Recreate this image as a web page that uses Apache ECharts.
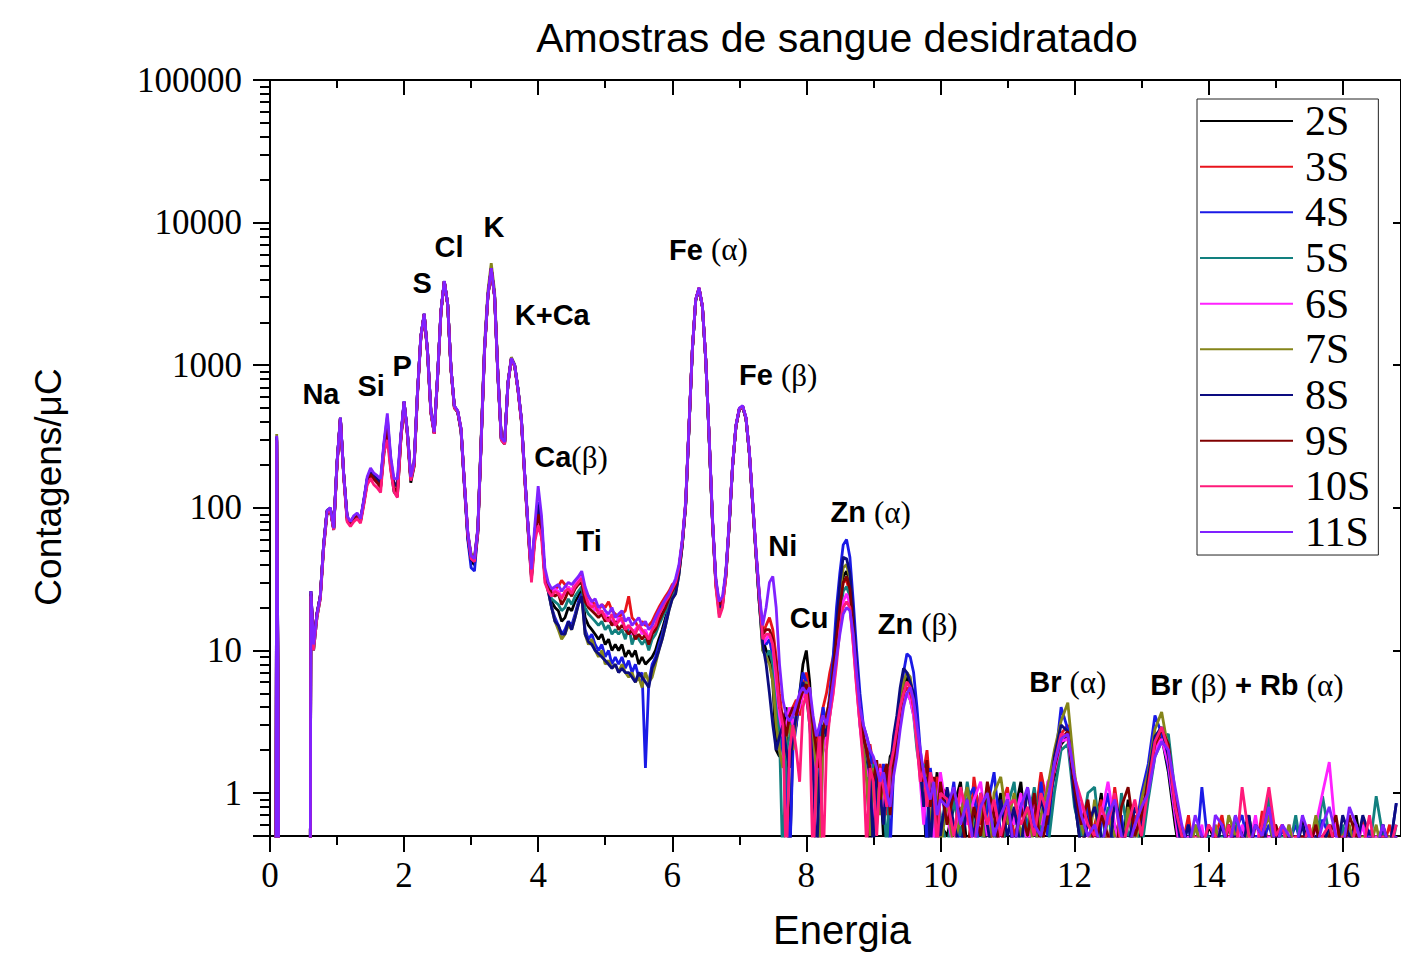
<!DOCTYPE html>
<html><head><meta charset="utf-8">
<script src="https://cdn.jsdelivr.net/npm/echarts@6/dist/echarts.min.js"></script>
<style>html,body{margin:0;padding:0;background:#fff}#chart{width:1401px;height:953px}</style>
</head><body><div id="chart"></div>
<script>
// ---------- DATA ----------
const energy = [
 0.09,0.10,0.12,0.13,0.60,
 0.61,0.65,0.70,0.75,0.80,0.85,0.90,0.95,1.00,1.05,1.10,1.15,1.20,1.25,1.30,1.35,1.40,1.45,1.50,1.55,1.60,1.65,1.70,1.75,1.80,1.85,1.90,1.95,2.00,2.05,2.10,2.15,2.20,2.25,2.30,2.35,2.40,2.45,2.50,2.55,2.60,2.65,2.70,2.75,2.80,2.85,2.90,2.95,3.00,3.05,3.10,3.15,3.20,3.25,3.30,3.35,3.40,3.45,3.50,3.55,3.60,3.65,3.70,3.75,3.80,3.85,3.90,3.95,4.00,4.05,4.10,4.15,4.20,
 4.25,4.30,4.35,4.40,4.45,4.50,4.55,4.60,4.65,4.70,4.75,4.80,4.85,4.90,4.95,5.00,5.05,5.10,5.15,5.20,5.25,5.30,5.35,5.40,5.45,5.50,5.55,5.60,5.65,5.70,5.75,5.80,5.85,5.90,5.95,6.00,
 6.05,6.10,6.15,6.20,6.25,6.30,6.35,6.40,6.45,6.50,6.55,6.60,6.65,6.70,6.75,6.80,6.85,6.90,6.95,7.00,
 7.05,7.10,7.15,7.20,7.25,7.30,7.35,7.40,7.45,7.50,7.55,7.60,7.65,7.70,7.75,7.80,7.85,7.90,7.95,8.00,
 8.05,8.10,8.15,8.20,8.25,8.30,8.35,8.40,8.45,8.50,8.55,8.60,8.65,8.70,8.75,8.80,8.85,8.90,8.95,9.00,
 9.05,9.10,9.15,9.20,9.25,9.30,9.35,9.40,9.45,9.50,9.55,9.60,9.65,9.70,9.75,9.80,9.85,9.90,9.95,10.00,
 10.1,10.2,10.3,10.4,10.5,10.6,10.7,10.8,10.9,11.0,
 11.1,11.2,11.3,11.4,11.5,11.6,11.7,11.8,11.9,12.0,
 12.1,12.2,12.3,12.4,12.5,12.6,12.7,12.8,12.9,13.0,
 13.1,13.2,13.3,13.4,13.5,13.6,13.7,13.8,13.9,14.0,
 14.1,14.2,14.3,14.4,14.5,14.6,14.7,14.8,14.9,15.0,
 15.1,15.2,15.3,15.4,15.5,15.6,15.7,15.8,15.9,16.0,
 16.1,16.2,16.3,16.4,16.5,16.6,16.7,16.8
];

const s2S = [
 0.2,290,3.5,0.2,0.2,
 24,10,17,23,52,90,96,70,200,420,165,82,76,84,88,80,108,150,175,160,150,140,240,350,190,130,120,290,540,320,150,195,620,1550,2250,1200,460,330,820,2350,3850,2650,920,500,470,350,145,62,42,40,66,290,1250,3000,4700,3000,820,300,280,740,1100,980,660,400,160,68,32,62,95,70,33,27,22,
 20,19,16,17,20,19,22,24,27,17,15,14,13,12,13,11,12,10,11,10,11,9,10,9,10,8,9,8,8.5,9,10,12,14,17,20,24,
 27,36,56,105,370,1280,2850,3450,2550,1080,310,80,29,19,21,33,76,195,370,490,510,420,240,105,46,22,
 12,10,9,6,2,1.8,3,4,0.3,2.5, 3,5,8,10,6,2,2.5,1.5,2,3, 4,6,12,22,33,36,30,15,7,3.5, 2,1.5,0.4,1.6,0.9,1.3,0.5,1.1,1.8,2, 3,4.5,6,6.5,5.5,4,2.5,1.5,1.0,0.3, 1.2,0.8,1.4,0.6,
 0.5,0.8,1.2,0.4,0.7,0.9,0.4,0.6,1.0,0.3, 0.7,1.2,0.4,0.8,0.5,0.9,1.3,2.2,2.5,0.9, 0.4,0.7,0.5,1.0,0.3,0.6,0.4,0.9,0.3,0.6, 1.2,2.3,2.5,1.4,0.6,0.3,0.5,0.4,0.3,0.6,
 0.45,0.35,0.6,0.4,0.5,0.7,0.35,0.5,0.4,0.6, 0.35,0.5,0.4,0.65,0.35,0.5,0.4,0.6,0.35,0.5, 0.4,0.7,0.35,0.5,0.4,0.6,0.35,0.5
];
const s3S = [
 0.2,300,4,0.2,0.2,
 25,11,18,24,54,94,98,71,205,425,168,85,77,85,90,82,110,155,170,158,150,138,260,380,200,140,125,300,550,330,158,200,640,1580,2280,1230,470,335,840,2380,3880,2680,940,510,475,355,148,66,45,43,70,295,1280,3050,4750,3050,840,305,285,750,1110,990,670,410,165,72,34,65,85,68,34,29,26,
 27,28,31,29,27,26,30,32,34,26,24,22,21,19,21,20,22,19,18,17,18,19,24,17,16,14,16,15,15,16,18,20,22,24,26,29,
 30,38,58,108,375,1290,2880,3480,2580,1090,315,82,31,21,22,35,78,198,375,495,515,425,245,108,48,24,
 13,15,17,14,9,5,3.2,2.5,3,4, 4.5,3.5,5.5,7,5,3,2,3,4,5, 7,9,14,22,30,31,25,13,6,3.5, 2.5,1.8,2.2,1.5,1.0,1.6,1.1,0.7,1.3,1.7, 2.5,3.5,5,5.5,5,4,2.5,1.7,1.4,2, 1.0,0.6,1.3,1.1,
 1.0,0.5,0.8,0.3,1.3,0.6,1.0,0.4,0.8,1.1, 0.5,0.7,1.0,0.6,1.4,0.8,1.6,2.6,3.0,1.2, 0.7,0.3,0.6,0.9,0.4,1.1,0.5,0.3,0.7,0.5, 1.0,2.1,2.7,1.7,0.8,0.4,0.7,0.3,0.5,0.3,
 0.5,0.7,0.35,0.6,0.4,0.5,0.35,0.75,0.4,0.5, 0.6,0.35,0.5,0.4,0.6,0.35,0.5,0.4,0.6,0.35, 0.5,0.4,0.65,0.35,0.5,0.4,0.6,0.35
];
const s4S = [
 0.2,310,4.5,0.2,0.2,
 26,11,18,24,55,96,100,72,208,428,170,86,79,87,91,83,112,160,185,170,160,152,280,430,220,150,145,310,555,335,160,205,645,1590,2290,1240,475,338,845,2390,3890,2690,945,515,470,340,140,60,38,36,68,298,1290,3080,4780,3080,845,308,288,755,1115,995,675,415,168,70,33,68,110,78,34,27,20,
 17,15,13,14,16,15,18,22,25,14,12,13,11,10,11,9,10,8,9,8,9,7.5,8.5,7,8,6.5,7,1.5,6,8,9,11,13,16,20,24,
 26,35,55,104,368,1280,2860,3460,2560,1085,312,80,30,20,22,34,77,196,372,492,512,422,242,106,47,21,
 12,11,12,9,5,3,2,1.5,0.3,2, 3,5,7,6,4,2,1.5,2.5,4,3, 5,9,20,35,55,60,45,22,10,5, 3,2.5,2,1.2,1.5,0.8,1.6,1.2,0.4,1.4, 2.5,4,7,9.5,9,7,4,2,1.2,0.4, 1.5,0.9,0.3,1.1,
 0.6,1.2,0.4,0.9,1.1,0.3,0.8,1.4,0.5,0.7, 0.4,0.9,0.6,0.3,1.2,0.5,1.5,4.0,2.8,1.0, 0.5,0.8,0.3,0.6,1.0,0.4,0.7,0.3,0.5,1.0, 1.6,3.5,2.6,1.5,0.7,0.4,0.6,0.3,1.1,0.4,
 0.45,0.6,0.4,0.55,0.7,0.4,0.5,0.45,0.6,0.4, 0.55,0.45,0.6,0.4,0.5,0.45,0.65,0.5,0.4,0.55, 0.45,0.6,0.4,0.55,0.45,0.5,0.4,0.85
];
const s5S = [
 0.2,295,3.8,0.2,0.2,
 25,10,17,24,54,94,98,71,205,425,168,86,78,86,90,82,112,160,182,168,158,150,270,400,210,145,140,305,550,332,160,202,640,1585,2285,1235,472,336,842,2385,3885,2685,942,512,476,356,148,66,45,43,70,296,1285,3060,4760,3060,842,306,286,752,1112,992,672,412,166,72,34,64,90,72,33,28,23,
 22,21,19,20,23,21,24,26,28,20,18,17,16,15,16,14,15,13,14,13,14,12,15,11,13,12,11,12,10,12,13,15,17,19,22,25,
 28,36,57,106,372,1285,2870,3470,2570,1088,314,81,30,20,22,34,77,197,374,494,514,424,244,107,47,22,
 10,9,10,8,4,2.5,0.3,2,2.5,3.5, 4,4.5,5,4.5,3.5,2.5,1.5,2,3,2.5, 3.5,5.5,10,18,26,28,24,12,6,3, 2,1.4,1.0,1.6,0.6,1.3,0.9,0.4,1.4,1.8, 2.5,3.5,4.5,5,4.5,3.5,2,1.4,1.6,0.8, 1.2,0.5,1.0,0.7,
 0.4,0.9,0.5,1.2,0.6,0.4,1.1,0.5,0.3,0.8, 1.2,0.4,0.6,1.1,0.5,0.4,1.0,2.0,2.2,0.8, 0.5,1.0,1.1,0.4,0.8,0.3,1.0,0.5,0.6,0.4, 0.9,1.8,2.3,2.6,1.0,0.5,0.3,0.6,0.4,0.5,
 0.35,0.5,0.4,0.7,0.35,0.6,0.4,0.5,0.95,0.35, 0.5,0.4,0.7,0.35,0.5,0.4,0.95,0.5,0.35,0.6, 0.4,0.5,0.35,0.4,0.95,0.5,0.35,0.6
];
const s6S = [
 0.2,305,4.2,0.2,0.2,
 26,11,18,24,55,95,99,72,208,428,170,86,78,86,90,82,110,155,175,160,150,140,265,390,205,140,130,305,555,335,160,205,645,1590,2290,1240,478,338,845,2390,3890,2690,945,515,478,358,148,67,46,44,71,298,1290,3080,4780,3080,845,308,288,755,1115,995,675,415,168,73,35,66,85,70,34,29,25,
 27,26,24,25,28,26,29,31,33,24,22,21,19,20,18,18,17,16,15,17,16,14,15,13,14,15,13,14,12,14,15,17,19,21,24,27,
 29,37,58,107,374,1290,2880,3480,2580,1090,315,82,30,19,21,34,78,198,376,496,516,426,246,108,48,23,
 11,12,13,11,6,3.5,2.5,3,4,3, 3.5,4,5,4.5,3.8,2,1.2,0.3,2,2.5, 3.5,5,9,15,22,25,21,11,5.5,3, 1.8,1.3,1.6,0.5,1.2,1.5,0.8,1.3,0.9,1.5, 2.2,3.5,4.5,5,4.5,3.5,2.3,1.2,0.6,1.3, 1.0,0.4,0.8,1.4,
 0.7,0.4,1.0,0.6,0.9,1.2,0.5,0.8,0.4,1.0, 0.6,1.0,0.4,0.9,0.6,1.2,1.4,2.3,2.4,1.0, 0.8,0.5,0.4,0.7,1.2,0.6,0.3,0.7,0.5,0.8, 1.1,2.0,2.4,1.6,0.7,0.3,0.5,0.4,0.6,0.3,
 0.6,0.4,0.5,0.35,0.6,0.4,0.7,0.35,0.5,0.4, 0.35,0.6,0.4,0.5,0.35,0.6,1.0,1.65,0.5,0.35, 0.5,0.4,0.6,0.35,0.5,0.4,0.5,0.35
];
const s7S = [
 0.2,330,5,0.2,0.2,
 26,11,18,24,55,95,99,72,208,428,170,86,78,86,90,82,112,158,180,165,155,148,270,410,212,146,140,305,555,335,160,205,645,1590,2290,1240,478,338,845,2390,3890,2690,945,515,470,345,145,64,48,45,72,320,1400,3300,5200,3300,880,315,292,770,1140,1010,685,420,168,70,33,62,90,72,32,26,20,
 16,14,12,13,15,14,17,21,24,13,11,12,10,9,10,8,8.5,7.5,8,7,8,7,6.5,7,6,6.5,5.5,7,6,6.5,8,10,12,15,19,23,
 25,34,55,104,368,1280,2860,3460,2560,1085,312,80,29,18,21,33,76,196,372,492,512,422,242,106,46,21,
 10,9,8,6,3,2,1.5,2.5,3,2, 3.5,4.5,5.5,6,4.5,2.5,1.5,0.3,2.5,3.5, 4.5,7,13,25,38,40,32,16,7,3.5, 2,1.2,0.5,1.5,1.2,0.7,1.4,1.0,1.6,2.2, 3,4.5,6,7,6.5,4.5,2.5,1.3,0.9,1.4, 0.5,1.2,0.9,0.4,
 0.9,0.4,0.7,1.1,0.5,0.8,0.3,1.0,1.3,0.6, 1.0,0.5,0.8,0.4,0.7,1.1,2.0,3.2,4.3,1.4, 0.6,0.4,0.9,0.3,0.7,0.5,0.3,0.8,0.4,0.9, 1.4,2.8,3.7,2.0,0.9,0.5,0.3,0.6,0.4,0.3,
 0.6,0.35,0.7,0.5,0.35,0.6,0.4,0.5,0.7,0.35, 0.4,0.6,0.35,0.5,0.4,0.7,0.35,0.5,0.4,0.5, 0.6,0.35,0.5,0.4,0.6,0.35,0.5,0.4
];
const s8S = [
 0.2,315,4.4,0.2,0.2,
 26,11,18,24,55,95,99,72,208,428,170,86,78,86,90,82,112,158,182,168,158,150,275,380,215,148,142,305,555,335,160,205,645,1590,2290,1240,478,338,845,2390,3890,2690,945,515,470,345,145,63,43,42,70,298,1290,3080,4780,3080,845,308,288,755,1115,995,675,415,168,72,35,68,105,76,33,26,20,
 16,15,13,13,16,14,17,21,24,13,11.5,11,10,9.5,9,8.5,8,7.5,8,7,7.5,7,7,6.5,6,7,6.5,6,5.5,7.5,8.5,10,12,15,19,23,
 25,34,55,104,368,1280,2860,3460,2560,1085,312,80,30,20,22,34,77,196,372,492,512,422,242,106,47,21,
 11,8,5,3,2,2.5,3,2,1.5,2.5, 3.5,4.5,6,5,3,1.5,0.3,1.5,3,2.5, 4,7,15,30,45,44,35,18,8,4, 2.5,2,1.3,0.4,1.4,1.0,0.6,1.3,1.5,2.5, 3.5,5.5,7.5,7,6,5,3,1.5,0.8,1.3, 0.4,1.0,0.8,0.5,
 1.1,0.6,0.4,0.8,0.5,1.0,0.6,0.3,0.9,0.5, 0.8,0.4,1.1,0.5,0.9,0.6,1.8,3.0,2.7,0.9, 0.4,0.6,0.8,0.5,0.3,0.9,0.6,0.4,0.8,0.6, 1.3,2.5,2.9,1.8,0.8,0.4,0.6,0.3,0.5,0.4,
 0.4,0.6,0.35,0.5,0.4,0.7,0.35,0.6,0.4,0.5, 0.35,0.5,0.4,0.6,0.35,0.5,0.4,0.6,0.35,0.7, 0.5,0.4,0.7,0.5,0.35,0.6,0.4,0.85
];
const s9S = [
 0.2,300,3.6,0.2,0.2,
 25,11,18,24,54,94,98,71,205,425,168,85,77,85,89,81,110,155,172,160,150,140,260,370,200,138,128,300,550,330,158,200,640,1580,2280,1230,470,335,840,2380,3880,2680,940,510,475,355,148,66,45,43,70,295,1280,3050,4750,3050,840,305,285,750,1110,990,670,410,165,72,34,64,90,70,34,29,25,
 24,25,21,23,26,24,27,29,30,22,20,19,18,17,18,16,17,15,16,14,15,14,13,14,12,13,12,13,11,13,14,16,18,20,23,26,
 29,37,58,107,374,1290,2880,3480,2580,1090,315,82,31,21,22,35,78,198,375,495,515,425,245,108,48,24,
 13,14,14,12,8,4,3.5,2.5,3.5,4, 3.5,4.5,5.2,5.8,4.5,3,2,1.5,2.8,3.5, 4.5,7,12,20,30,33,27,14,6.5,3.8, 2.5,2,1.5,1.2,1.7,0.9,1.3,1.6,0.7,1.6, 2.5,3.8,5,6,5.5,4,2.6,1.5,1.2,1.7, 0.8,1.3,0.6,1.2,
 0.6,1.0,0.7,0.4,0.8,0.5,1.2,0.7,0.4,0.9, 0.4,0.8,0.5,1.0,0.4,0.7,1.5,2.4,2.7,1.1, 0.6,0.9,0.4,0.7,0.5,0.3,0.8,1.1,0.5,0.7, 1.2,2.2,2.8,2.2,0.9,0.5,0.4,0.3,0.5,0.3,
 0.5,0.35,0.6,0.4,0.5,0.35,0.6,0.5,0.35,0.6, 0.4,0.5,0.35,0.5,0.4,0.6,0.35,0.5,0.7,0.35, 0.7,0.5,0.35,0.5,0.4,0.5,0.35,0.5
];
const s10S = [
 0.2,298,3.9,0.2,0.2,
 24,10,17,23,52,92,96,70,200,420,165,80,74,80,84,78,105,145,160,145,138,128,245,300,185,130,118,295,545,325,155,198,635,1570,2270,1220,465,330,835,2370,3870,2670,935,505,470,350,145,65,44,42,68,290,1270,3040,4740,3040,835,300,280,745,1105,985,665,405,160,70,30,58,75,62,30,26,24,
 26,25,23,26,27,25,28,30,32,25,21,20,21,18,19,17,16,18,15,16,17,14,15,14,13,15,14,13,12,14,15,18,20,22,24,27,
 30,38,58,108,375,1290,2880,3480,2580,1090,315,82,28,17,20,33,78,198,375,495,515,425,245,108,48,23,
 12,13,13,11,7,4,3,0.3,2,3, 2,1.2,4,5,3,0.3,1.5,2.5,0.3,2, 3.5,5,8,14,20,22,20,11,5.5,3, 1.6,0.4,1.5,1.2,0.5,1.4,1.1,0.8,1.5,2, 2.8,4,5,6,5.5,4,2.2,1.2,1.5,0.8, 1.4,1.1,0.4,1.0,
 0.9,0.5,1.1,0.7,0.4,1.0,0.6,0.9,0.5,0.8, 0.9,0.6,0.8,0.5,1.0,0.7,1.6,2.6,2.5,1.3, 0.9,0.6,0.5,0.8,0.6,1.0,0.4,0.6,0.9,0.5, 1.1,2.3,2.9,2.0,0.8,0.5,0.3,0.5,0.4,0.6,
 0.5,0.4,0.6,0.35,1.1,0.5,0.4,0.6,1.1,0.5, 0.6,0.35,0.5,0.4,0.6,0.35,0.5,0.6,0.4,0.5, 0.35,0.6,0.4,0.7,0.35,0.5,0.4,0.6
];
const s11S = [
 0.2,320,4.6,0.2,0.2,
 26,11,18,24,55,95,100,72,210,430,170,88,80,88,92,84,115,165,190,175,168,160,290,460,230,160,160,320,560,340,165,210,650,1600,2300,1250,480,340,850,2400,3900,2700,950,520,480,360,150,68,46,44,72,300,1300,3100,4800,3100,850,310,290,760,1120,1000,680,420,170,75,37,75,142,88,38,30,27,
 28,29,26,28,30,29,31,33,36,28,24,22,23,20,21,19,18,20,17,18,19,16,17,15,16,17,15,16,14,15,17,19,21,23,25,28,
 32,40,60,110,380,1300,2900,3500,2600,1100,320,85,32,22,24,36,80,200,380,500,520,430,250,110,50,25,
 15,20,30,33,20,8,4.5,3.5,3.2,3.5, 4.2,5,5.5,5,5.5,3.5,2.5,3,3.5,3, 4,6,9,13,18,20,19,13,7,4, 3,2.5,2,1.8,1.5,1.2,1.4,1.0,0.8,1.3, 1.8,2.8,4,5,5.5,4.5,3,2,1.4,1.1, 0.9,1.2,0.7,0.9,
 0.8,1.1,0.6,0.9,0.4,0.8,1.0,0.5,0.7,0.9, 0.4,0.8,1.1,0.6,0.5,0.9,1.6,2.4,2.6,1.3, 0.7,0.5,0.6,0.4,0.7,0.9,0.5,0.4,0.6,0.8, 1.0,1.8,2.3,2.0,1.1,0.6,0.4,0.7,0.5,0.3,
 0.7,0.6,0.4,0.7,0.5,0.4,0.6,0.5,0.8,0.4, 0.6,0.5,0.4,0.7,0.5,0.4,0.6,0.8,0.5,0.4, 0.8,0.6,0.4,0.5,0.4,0.6,0.4,0.5
];

const sampleNames = ['2S','3S','4S','5S','6S','7S','8S','9S','10S','11S'];
const sampleValues = [s2S,s3S,s4S,s5S,s6S,s7S,s8S,s9S,s10S,s11S];

const peakLabels = ['Na','Si','P','S','Cl','K','K+Ca','Ca(β)','Ti','Fe (α)','Fe (β)','Ni','Cu','Zn (α)','Zn (β)','Br (α)','Br (β) + Rb (α)'];
const peakEnergy = [0.76,1.51,1.97,2.27,2.67,3.34,4.21,4.49,4.76,6.54,7.58,7.65,8.04,8.96,9.66,11.90,14.57];
const peakCounts = [628,714,986,3770,6740,9310,2250,227,58.5,6430,853,54,16.9,93.5,15.3,6.0,5.7];

const xTickValues = [0,2,4,6,8,10,12,14,16];
const xMinorValues = [1,3,5,7,9,11,13,15];
const yTickValues = [1,10,100,1000,10000,100000];

// ---------- STYLE ----------
const colors = ['#000000','#e8141c','#1a1ae6','#12807f','#ff22ff','#85851a','#0c0c80','#800000','#ff1a7a','#8022ff'];
const serif = "'Liberation Serif','Times New Roman',serif";
const sans = "'Liberation Sans',Arial,Helvetica,sans-serif";

sampleValues.forEach((a, i) => {
  if (a.length !== energy.length) throw new Error(sampleNames[i] + ' length ' + a.length + ' vs ' + energy.length);
});

const yMinorValues = [];
[0.1,1,10,100,1000,10000].forEach(d => { for (let k = 2; k <= 9; k++) { const v = +(k*d).toPrecision(3); if (v >= 0.5 && v <= 100000) yMinorValues.push(v); } });

const X_MAX = 16.87, Y_MIN = 0.5, Y_MAX = 100000;
const axisBlack = { color: '#000', width: 2 };

function xAx(pos, ticks, len, inside, showLine, labels) {
  return {
    type: 'value', position: pos, min: 0, max: X_MAX,
    axisLine: { show: showLine, onZero: false, lineStyle: axisBlack },
    axisTick: { show: true, inside, length: len, customValues: ticks, lineStyle: axisBlack },
    axisLabel: labels ? { show: true, customValues: xTickValues, margin: 22, color: '#000', fontFamily: serif, fontSize: 35 } : { show: false },
    splitLine: { show: false }, minorTick: { show: false }
  };
}
function yAx(pos, ticks, len, inside, showLine, labels) {
  return {
    type: 'log', logBase: 10, position: pos, min: Y_MIN, max: Y_MAX,
    axisLine: { show: showLine, onZero: false, lineStyle: axisBlack },
    axisTick: { show: true, inside, length: len, customValues: ticks, lineStyle: axisBlack },
    axisLabel: labels ? { show: true, customValues: yTickValues, margin: 28, color: '#000', fontFamily: serif, fontSize: 35,
      formatter: v => String(Math.round(v)) } : { show: false },
    splitLine: { show: false }, minorTick: { show: false }
  };
}

const lineSeries = sampleNames.map((name, i) => ({
  name, type: 'line', xAxisIndex: 0, yAxisIndex: 0,
  data: energy.map((e, j) => [e, sampleValues[i][j]]),
  symbol: 'none', showSymbol: false, clip: true,
  lineStyle: { color: colors[i], width: 2.8 }, itemStyle: { color: colors[i] },
  emphasis: { disabled: true }, silent: true, z: 2
}));

function richLabel(s) {
  let out = '{b|' + s.replace(/\((α|β)\)/g, m => '}{g|' + m + '}{b|') + '}';
  return out.replace(/\{b\|\}/g, '');
}

const labelSeries = {
  type: 'scatter', xAxisIndex: 0, yAxisIndex: 0, symbolSize: 0, silent: true, z: 5,
  itemStyle: { opacity: 1, color: '#000' },
  data: peakEnergy.map((e, i) => [e, peakCounts[i], peakLabels[i]]),
  label: {
    show: true, position: [0, 0], align: 'center', verticalAlign: 'middle', opacity: 1,
    color: '#000', textBorderWidth: 0, formatter: p => richLabel(p.data[2]),
    rich: {
      b: { fontFamily: sans, fontWeight: 'bold', fontSize: 29, color: '#000' },
      g: { fontFamily: serif, fontWeight: 'normal', fontSize: 31, color: '#000' }
    }
  },
  emphasis: { disabled: true }
};

const chart = echarts.init(document.getElementById('chart'), null, { renderer: 'svg', width: 1401, height: 953 });
chart.setOption({
  animation: false,
  backgroundColor: '#fff',
  color: colors,
  grid: { left: 270, right: 0, top: 80, bottom: 117, containLabel: false, outerBoundsMode: 'none' },
  xAxis: [
    xAx('bottom', xTickValues, 16, false, true, true),
    xAx('bottom', xMinorValues, 9, false, false, false),
    xAx('top', xTickValues, 15, true, true, false),
    xAx('top', xMinorValues, 8, true, false, false)
  ],
  yAxis: [
    yAx('left', [0.5].concat(yTickValues), 17, false, true, true),
    yAx('left', yMinorValues, 10, false, false, false),
    yAx('right', yTickValues, 8, true, true, false)
  ],
  legend: {
    data: sampleNames, orient: 'vertical', left: 1197, top: 99,
    padding: [0, 8, 1, 3], itemWidth: 93, itemHeight: 2, itemGap: 1.67,
    icon: 'rect',
    backgroundColor: '#fff', borderColor: '#222', borderWidth: 1,
    textStyle: { fontFamily: serif, fontSize: 42, color: '#000', lineHeight: 44, padding: [0, 0, 0, 7] },
    selectedMode: false
  },
  graphic: [
    { type: 'text', x: 837, y: 38, style: { text: 'Amostras de sangue desidratado', font: '41px ' + sans, fill: '#000', align: 'center', verticalAlign: 'middle' } },
    { type: 'text', x: 842, y: 930, style: { text: 'Energia', font: '40px ' + sans, fill: '#000', align: 'center', verticalAlign: 'middle' } },
    { type: 'text', x: 48, y: 487, rotation: Math.PI / 2, style: { text: 'Contagens/μC', font: '37px ' + sans, fill: '#000', align: 'center', verticalAlign: 'middle' } }
  ],
  series: lineSeries.concat([labelSeries])
});
</script></body></html>
